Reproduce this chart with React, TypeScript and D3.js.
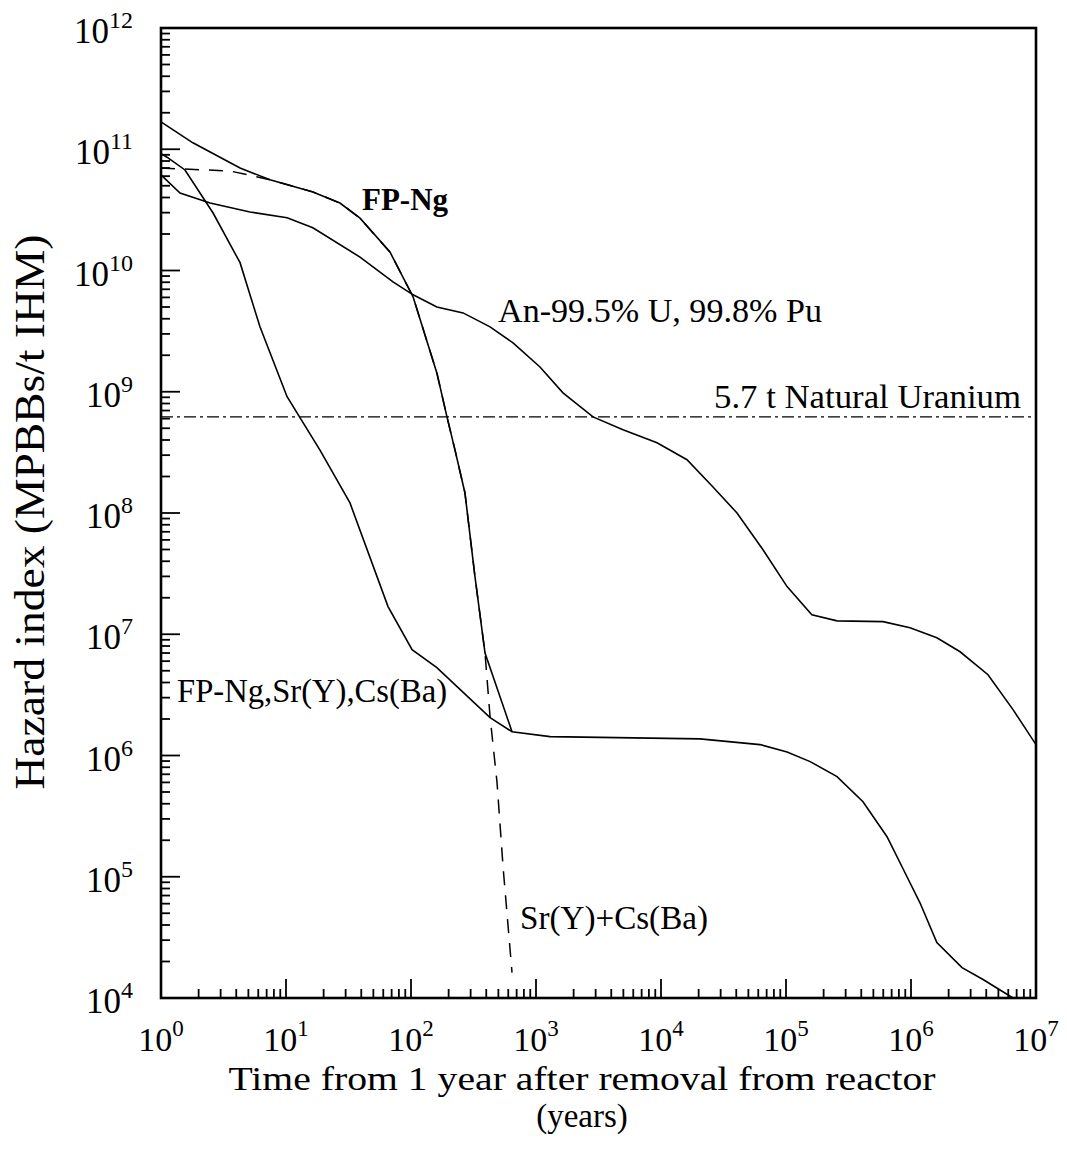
import React from 'react';
import * as d3 from 'd3';

// ---- data (time in years, hazard index in MPBBs/t IHM) ----
const xExponents = [0, 1, 2, 3, 4, 5, 6, 7];
const yExponents = [4, 5, 6, 7, 8, 9, 10, 11, 12];

const fpNg: [number, number][] = [
  [1, 1.68e11], [1.8, 1.13e11], [4.29, 7.0e10], [7.45, 5.6e10], [16.4, 4.45e10],
  [27, 3.6e10], [39.1, 2.7e10], [67.9, 1.42e10], [104, 6.05e9], [161, 1.43e9],
  [194, 6.2e8], [225, 3.3e8], [270, 1.47e8], [325, 2.98e7], [391, 7.0e6], [643, 1.57e6],
];

const fpNgSrCs: [number, number][] = [
  [1, 9.2e10], [1.117, 8.6e10], [1.556, 6.75e10], [2.61, 2.98e10], [4.29, 1.16e10],
  [6.19, 3.43e9], [10.2, 9.1e8], [18.7, 3.3e8], [32.5, 1.21e8], [65.5, 1.69e7],
  [102, 7.45e6], [161, 5.3e6], [429, 2.05e6], [643, 1.57e6], [1294, 1.43e6],
  [20500, 1.37e6], [61900, 1.23e6], [1.02e5, 1.07e6], [1.56e5, 8.9e5], [2.56e5, 6.7e5],
  [4.13e5, 4.16e5], [6.43e5, 2.14e5], [9.29e5, 1.0e5], [1.18e6, 6.1e4], [1.61e6, 2.86e4],
  [2.56e6, 1.78e4], [3.77e6, 1.42e4], [6.55e6, 1.0e4],
];

const actinides: [number, number][] = [
  [1, 6.14e10], [1.42, 4.36e10], [2.47, 3.6e10], [5.15, 3.04e10], [10.2, 2.72e10],
  [16.4, 2.25e10], [39.1, 1.29e10], [71.8, 8.05e9], [104, 6.3e9], [161, 5.0e9],
  [261, 4.47e9], [429, 3.43e9], [655, 2.53e9], [1076, 1.6e9], [1644, 9.8e8],
  [2858, 6.2e8], [4966, 4.85e8], [9290, 3.79e8], [16140, 2.75e8], [26060, 1.64e8],
  [40550, 1.0e8], [65460, 4.98e7], [1.02e5, 2.47e7], [1.61e5, 1.45e7], [2.56e5, 1.29e7],
  [5.97e5, 1.27e7], [9.82e5, 1.13e7], [1.61e6, 9.35e6], [2.47e6, 7.17e6], [4.13e6, 4.64e6],
  [6.55e6, 2.39e6], [1e7, 1.23e6],
];

const srCs: [number, number][] = [
  [1, 7.0e10], [3.56, 6.62e10], [6.43, 5.8e10], [7.45, 5.6e10], [16.4, 4.45e10],
  [27, 3.6e10], [39.1, 2.7e10], [67.9, 1.42e10], [104, 6.05e9], [161, 1.43e9],
  [194, 6.2e8], [225, 3.3e8], [270, 1.47e8], [325, 2.98e7], [391, 7.0e6],
  [429, 2.09e6], [488, 5.97e5], [545, 1.21e5], [643, 1.62e4],
];

const naturalUranium = 6.2e8;

const FONT = '"Liberation Serif", "Times New Roman", Times, serif';

export default function App() {
  const W = 1067, H = 1169;
  const left = 161, right = 1036, top = 28, bottom = 998;
  const x = d3.scaleLog().domain([1, 1e7]).range([left, right]);
  const y = d3.scaleLog().domain([1e4, 1e12]).range([bottom, top]);
  const line = d3.line<[number, number]>().x(d => x(d[0])).y(d => y(d[1]));

  const xTicks = x.ticks();
  const yTicks = y.ticks();
  const isMajor = (v: number) => Math.abs(Math.log10(v) - Math.round(Math.log10(v))) < 1e-9;

  return (
    <svg width={W} height={H} style={{ position: 'absolute', left: 0, top: 0, background: '#fff', fontFamily: FONT }}>
      <rect x={0} y={0} width={W} height={H} fill="#fff" />
      {/* frame */}
      <rect x={left} y={top} width={right - left} height={bottom - top} fill="none" stroke="#000" strokeWidth={2.6} />
      {/* x ticks */}
      {xTicks.map((t, i) => (
        <line key={'xt' + i} x1={x(t)} x2={x(t)} y1={bottom} y2={bottom - (isMajor(t) ? 19 : 9)} stroke="#000" strokeWidth={1.8} />
      ))}
      {/* y ticks */}
      {yTicks.map((t, i) => (
        <line key={'yt' + i} x1={left} x2={left + (isMajor(t) ? 19 : 9)} y1={y(t)} y2={y(t)} stroke="#000" strokeWidth={1.8} />
      ))}
      {/* x tick labels */}
      {xExponents.map(e => (
        <text key={'xl' + e} x={x(Math.pow(10, e))} y={1051} textAnchor="middle" fontSize={34} fill="#000">
          10<tspan dy={-15} fontSize={23}>{e}</tspan>
        </text>
      ))}
      {/* y tick labels */}
      {yExponents.map(e => (
        <text key={'yl' + e} x={133} y={y(Math.pow(10, e)) + 15} textAnchor="end" fontSize={35} fill="#000">
          10<tspan dy={-15} fontSize={24}>{e}</tspan>
        </text>
      ))}
      {/* natural uranium reference line */}
      <line x1={left} x2={right} y1={y(naturalUranium)} y2={y(naturalUranium)} stroke="#000" strokeWidth={1.3} strokeDasharray="12,4,3,4" />
      {/* curves */}
      <path d={line(srCs) || ''} fill="none" stroke="#000" strokeWidth={1.5} strokeDasharray="14,10" />
      <path d={line(fpNg) || ''} fill="none" stroke="#000" strokeWidth={1.6} />
      <path d={line(fpNgSrCs) || ''} fill="none" stroke="#000" strokeWidth={1.6} />
      <path d={line(actinides) || ''} fill="none" stroke="#000" strokeWidth={1.6} />
      {/* annotations */}
      <text x={362} y={210} fontSize={31} fontWeight="bold" fill="#000">FP-Ng</text>
      <text x={498} y={322} fontSize={33} fill="#000" textLength={324} lengthAdjust="spacingAndGlyphs">An-99.5% U, 99.8% Pu</text>
      <text x={714} y={408} fontSize={34} fill="#000" textLength={307} lengthAdjust="spacingAndGlyphs">5.7 t Natural Uranium</text>
      <text x={177} y={702} fontSize={33} fill="#000" textLength={270} lengthAdjust="spacingAndGlyphs">FP-Ng,Sr(Y),Cs(Ba)</text>
      <text x={520} y={929} fontSize={33} fill="#000" textLength={188} lengthAdjust="spacingAndGlyphs">Sr(Y)+Cs(Ba)</text>
      {/* axis titles */}
      <text x={582} y={1090} textAnchor="middle" fontSize={34} fill="#000" textLength={707} lengthAdjust="spacingAndGlyphs">Time from 1 year after removal from reactor</text>
      <text x={582} y={1127} textAnchor="middle" fontSize={33} fill="#000">(years)</text>
      <text transform="translate(44,512) rotate(-90)" textAnchor="middle" fontSize={42} fill="#000" textLength={555} lengthAdjust="spacingAndGlyphs">Hazard index (MPBBs/t IHM)</text>
    </svg>
  );
}
